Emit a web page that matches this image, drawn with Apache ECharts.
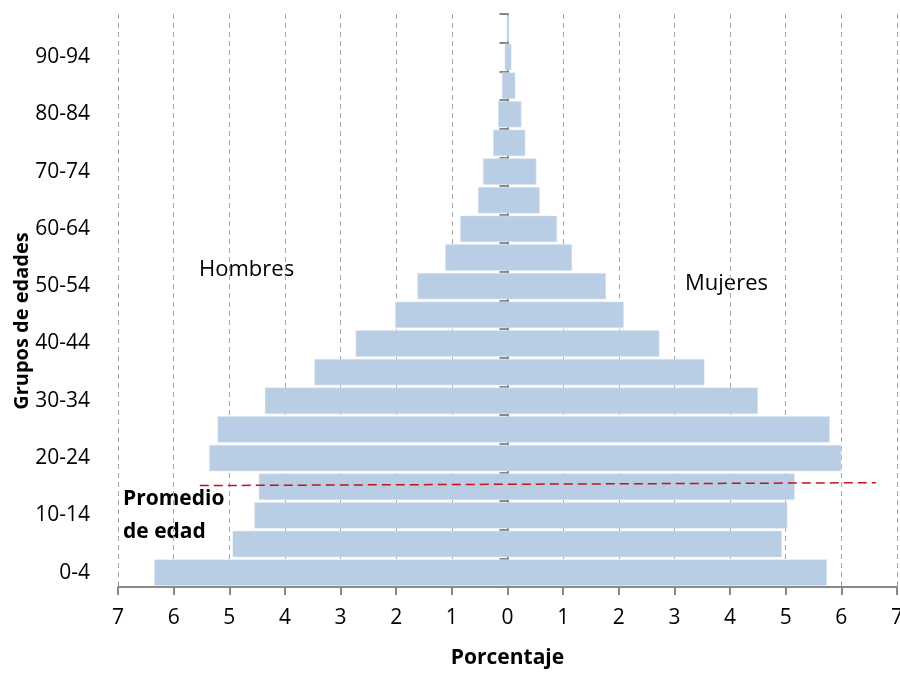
<!DOCTYPE html>
<html>
<head>
<meta charset="utf-8">
<script src="https://cdn.jsdelivr.net/npm/echarts@6/dist/echarts.min.js"></script>
<style>html,body{margin:0;padding:0;background:#fff;}#chart{width:900px;height:674px;}</style>
</head>
<body>
<div id="chart"></div>
<script>
// Age groups (bottom to top)
var categories = ['0-4','5-9','10-14','15-19','20-24','25-29','30-34','35-39','40-44','45-49',
                  '50-54','55-59','60-64','65-69','70-74','75-79','80-84','85-89','90-94','95-99'];
// Percentages
var hombres = [6.35, 4.94, 4.55, 4.47, 5.36, 5.21, 4.36, 3.47, 2.73, 2.02,
               1.62, 1.12, 0.85, 0.53, 0.44, 0.26, 0.17, 0.10, 0.05, 0.01];
var mujeres = [5.74, 4.93, 5.03, 5.16, 6.00, 5.79, 4.50, 3.54, 2.73, 2.09,
               1.77, 1.16, 0.89, 0.58, 0.52, 0.32, 0.25, 0.14, 0.07, 0.03];
// Mean-age annotation line: x in percent, y in years of age
var promedioX = [-5.53, 6.62];
var promedioEdad = [17.7, 18.2];
var xTicks = [-7,-6,-5,-4,-3,-2,-1,0,1,2,3,4,5,6,7];

var FONT = '"Open Sans", Lato, sans-serif';
var chart = echarts.init(document.getElementById('chart'), null, {renderer: 'canvas'});
chart.setOption({
  animation: false,
  backgroundColor: '#ffffff',
  grid: {left: 118, right: 3, top: 14, bottom: 87, containLabel: false, outerBoundsMode: 'none'},
  xAxis: [{
    type: 'value',
    min: xTicks[0], max: xTicks[xTicks.length - 1], interval: 1,
    name: 'Porcentaje', nameLocation: 'middle', nameGap: 61,
    nameTextStyle: {fontFamily: FONT, fontSize: 21, fontWeight: 'bold', color: '#000'},
    axisLine: {show: true, onZero: false, lineStyle: {color: '#898989', width: 2}},
    axisTick: {show: true, length: 8, lineStyle: {color: '#898989', width: 2}},
    axisLabel: {fontFamily: FONT, fontSize: 21, color: '#000', margin: 21,
                formatter: function (v) { return Math.abs(v); }},
    splitLine: {show: true, lineStyle: {color: '#a6a6a6', type: [5, 4], width: 1}}
  }],
  yAxis: [{
    type: 'category', data: categories, position: 'left',
    axisLine: {show: false, onZero: false},
    axisTick: {show: false},
    axisLabel: {interval: 1, fontFamily: FONT, fontSize: 21, color: '#000', margin: 28},
    splitLine: {show: false}
  }, {
    type: 'category', data: categories, position: 'left',
    axisLine: {show: true, onZero: true, lineStyle: {color: '#868686', width: 2}},
    axisTick: {show: true, interval: 0, length: 8, lineStyle: {color: '#868686', width: 2}},
    axisLabel: {show: false},
    splitLine: {show: false}
  }, {
    type: 'value', min: 0, max: 100, show: false
  }],
  series: [{
    name: 'Hombres', type: 'bar', stack: 'p', yAxisIndex: 0,
    data: hombres.map(function (v) { return -v; }),
    barCategoryGap: '8%',
    itemStyle: {color: '#b9cde5', borderColor: '#dce6f2', borderWidth: 0.5}
  }, {
    name: 'Mujeres', type: 'bar', stack: 'p', yAxisIndex: 0,
    data: mujeres,
    barCategoryGap: '8%',
    itemStyle: {color: '#b9cde5', borderColor: '#dce6f2', borderWidth: 0.5}
  }, {
    name: 'Promedio de edad', type: 'line', yAxisIndex: 2, z: 5,
    data: promedioX.map(function (x, i) { return [x, promedioEdad[i]]; }),
    showSymbol: false, symbol: 'none',
    lineStyle: {color: '#c0141b', width: 1.5, type: [9, 5]}
  }],
  graphic: [
    {type: 'text', left: 199, top: 259, style: {text: 'Hombres', font: '22px ' + FONT, fill: '#000'}},
    {type: 'text', left: 685, top: 273, style: {text: 'Mujeres', font: '22px ' + FONT, fill: '#000'}},
    {type: 'text', left: 123, top: 483, style: {text: 'Promedio\nde edad', font: 'bold 21px ' + FONT, fill: '#000', lineHeight: 33}},
    {type: 'text', x: 22, y: 321, rotation: Math.PI / 2,
     style: {text: 'Grupos de edades', font: 'bold 20px ' + FONT, fill: '#000', align: 'center', verticalAlign: 'middle'}}
  ]
});
</script>
</body>
</html>
